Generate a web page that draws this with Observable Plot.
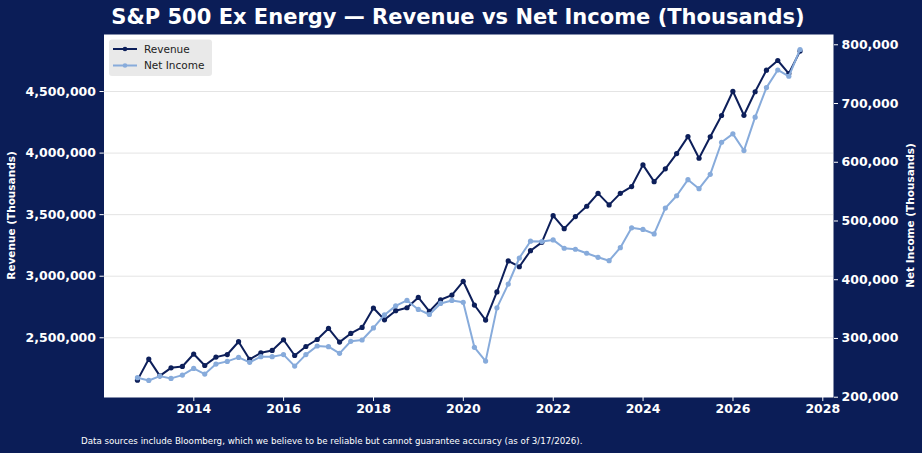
<!DOCTYPE html>
<html><head><meta charset="utf-8">
<script src="https://cdn.jsdelivr.net/npm/d3@7"></script>
<script src="https://cdn.jsdelivr.net/npm/@observablehq/plot@0.6"></script>
<style>html,body{margin:0;padding:0;background:#0b1d57;}</style>
</head><body><div id="chart"></div>
<script>
const dates = [
 "2012-09-30","2012-12-31",
 "2013-03-31","2013-06-30","2013-09-30","2013-12-31",
 "2014-03-31","2014-06-30","2014-09-30","2014-12-31",
 "2015-03-31","2015-06-30","2015-09-30","2015-12-31",
 "2016-03-31","2016-06-30","2016-09-30","2016-12-31",
 "2017-03-31","2017-06-30","2017-09-30","2017-12-31",
 "2018-03-31","2018-06-30","2018-09-30","2018-12-31",
 "2019-03-31","2019-06-30","2019-09-30","2019-12-31",
 "2020-03-31","2020-06-30","2020-09-30","2020-12-31",
 "2021-03-31","2021-06-30","2021-09-30","2021-12-31",
 "2022-03-31","2022-06-30","2022-09-30","2022-12-31",
 "2023-03-31","2023-06-30","2023-09-30","2023-12-31",
 "2024-03-31","2024-06-30","2024-09-30","2024-12-31",
 "2025-03-31","2025-06-30","2025-09-30","2025-12-31",
 "2026-03-31","2026-06-30","2026-09-30","2026-12-31",
 "2027-03-31","2027-06-30"
];
const revenue = [
 2156000,2327000,2191000,2256000,2267000,2368000,2275000,2343000,2364000,2468000,
 2324000,2378000,2397000,2484000,2356000,2429000,2486000,2576000,2465000,2535000,
 2584000,2742000,2646000,2720000,2744000,2828000,2714000,2809000,2847000,2959000,
 2766000,2644000,2872000,3124000,3077000,3207000,3275000,3492000,3386000,3484000,
 3568000,3673000,3579000,3673000,3728000,3904000,3768000,3872000,3996000,4134000,
 3958000,4132000,4305000,4502000,4307000,4498000,4673000,4752000,4646000,4828000
];
const netIncome = [
 233200,228500,235900,232000,237600,249000,239300,256400,261000,267800,
 259300,269000,269000,272500,253000,272500,287200,286100,274700,295200,
 297400,317900,340100,355500,364700,349400,340800,359600,364700,361500,
 284900,261500,352100,392600,437000,465600,464900,467800,453600,451900,
 445100,438200,432400,454600,488300,485600,478000,522000,543000,570300,
 555000,579400,634100,648400,619900,676800,727100,757100,746400,792000
];
const xTickYears = [2014,2016,2018,2020,2022,2024,2026,2028];
const revTicks = [2500000,3000000,3500000,4000000,4500000];
const niTicks = [200000,300000,400000,500000,600000,700000,800000];

const bg = "#0b1d57";
const revColor = "#0d1f5a";
const niColor = "#87abdb";
const revDomain = [2015000, 4963000];
const niDomain = [199500, 817500];
const toRev = v => revDomain[0] + (v - niDomain[0]) / (niDomain[1] - niDomain[0]) * (revDomain[1] - revDomain[0]);
const fromRev = r => niDomain[0] + (r - revDomain[0]) / (revDomain[1] - revDomain[0]) * (niDomain[1] - niDomain[0]);
const fmt = d3.format(",");

const data = dates.map((d, i) => ({date: new Date(d), rev: revenue[i], ni: toRev(netIncome[i])}));
const xTicks = xTickYears.map(y => new Date(Date.UTC(y, 0, 1)));

function decorations(index, scales, values, dims) {
  const g = d3.create("svg:g");
  g.append("text").attr("x", 458).attr("y", 24).attr("text-anchor", "middle")
    .attr("fill", "white").attr("font-size", 21).attr("font-weight", "bold")
    .text("S&P 500 Ex Energy — Revenue vs Net Income (Thousands)");
  g.append("text").attr("x", 81).attr("y", 444).attr("text-anchor", "start").attr("fill", "white").attr("font-size", 8.7)
    .text("Data sources include Bloomberg, which we believe to be reliable but cannot guarantee accuracy (as of 3/17/2026).");
  g.append("text").attr("transform", "translate(15,215.5) rotate(-90)").attr("text-anchor", "middle")
    .attr("fill", "white").attr("font-size", 10.5).attr("font-weight", "bold").text("Revenue (Thousands)");
  g.append("text").attr("transform", "translate(914,215.5) rotate(-90)").attr("text-anchor", "middle")
    .attr("fill", "white").attr("font-size", 10.5).attr("font-weight", "bold").text("Net Income (Thousands)");
  const lg = g.append("g");
  lg.append("rect").attr("x", 109).attr("y", 39.5).attr("width", 103).attr("height", 36.5).attr("rx", 3)
    .attr("fill", "#e9e9e9");
  const items = [["Revenue", revColor, 49], ["Net Income", niColor, 65.5]];
  for (const [name, c, y] of items) {
    lg.append("line").attr("x1", 113).attr("x2", 137).attr("y1", y).attr("y2", y)
      .attr("stroke", c).attr("stroke-width", 2);
    lg.append("circle").attr("cx", 125).attr("cy", y).attr("r", 2.3).attr("fill", c);
    lg.append("text").attr("x", 144).attr("y", y + 3.7).attr("text-anchor", "start")
      .attr("fill", "#222").attr("font-size", 10.5).text(name);
  }
  return g.node();
}

const chart = Plot.plot({
  width: 922, height: 453,
  marginLeft: 103.5, marginRight: 89, marginTop: 34, marginBottom: 56,
  style: {background: bg, color: "white", fontFamily: "DejaVu Sans, sans-serif", fontSize: "12.5px", overflow: "visible"},
  x: {type: "utc", domain: [new Date("2012-01-02"), new Date("2028-03-28")]},
  y: {domain: revDomain},
  marks: [
    Plot.frame({fill: "white", stroke: "none"}),
    Plot.gridY(revTicks, {stroke: "#e4e4e4", strokeOpacity: 1, strokeWidth: 1}),
    Plot.axisX(xTicks, {tickSize: 4, tickPadding: 3, fontWeight: "bold", label: null, tickFormat: d => String(d.getUTCFullYear())}),
    Plot.axisY(revTicks, {anchor: "left", tickSize: 4, tickPadding: 4, fontWeight: "bold", label: null, tickFormat: fmt}),
    Plot.axisY(niTicks.map(toRev), {anchor: "right", tickSize: 4, tickPadding: 4, fontWeight: "bold", label: null,
      tickFormat: d => fmt(Math.round(fromRev(d) / 1000) * 1000)}),
    Plot.line(data, {x: "date", y: "rev", stroke: revColor, strokeWidth: 2}),
    Plot.dot(data, {x: "date", y: "rev", r: 2.6, fill: revColor}),
    Plot.line(data, {x: "date", y: "ni", stroke: niColor, strokeWidth: 2}),
    Plot.dot(data, {x: "date", y: "ni", r: 2.6, fill: niColor}),
    decorations
  ]
});
document.getElementById("chart").appendChild(chart);
</script>
</body></html>
